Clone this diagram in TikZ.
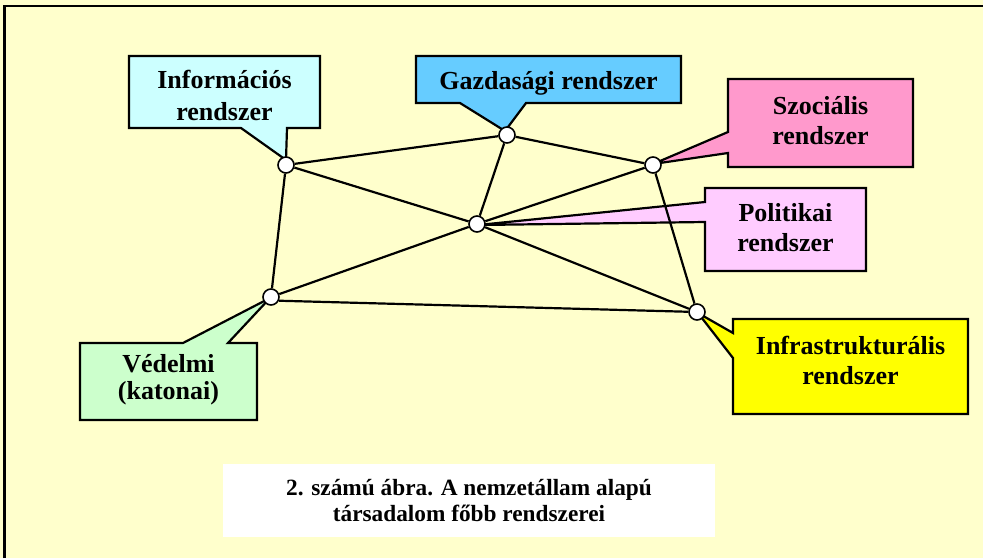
\documentclass[tikz,border=0pt]{standalone}
\usepackage{fontspec}
\setmainfont{Liberation Serif}
\definecolor{paper}{HTML}{FFFFCC}
\definecolor{infocol}{HTML}{CCFFFF}
\definecolor{gazdcol}{HTML}{66CCFF}
\definecolor{szoccol}{HTML}{FF99CC}
\definecolor{politcol}{HTML}{FFCCFF}
\definecolor{vedcol}{HTML}{CCFFCC}
\definecolor{infracol}{HTML}{FFFF00}
\begin{document}
\begin{tikzpicture}[x=1pt,y=-1pt,
  boxtext/.style={font=\fontsize{26}{30}\selectfont\bfseries, align=center, inner sep=0pt},
  callout/.style={draw=black, line width=2.2pt, line join=miter},
  hub/.style={circle, draw=black, fill=white, line width=1.6pt, minimum size=16pt, inner sep=0pt},
  link/.style={line width=2.2pt}]
\useasboundingbox (0,0) rectangle (983,558);
% page background and frame
\fill[paper] (0,0) rectangle (983,558);
\draw[line width=2.5pt] (4.5,558) -- (4.5,6) -- (983,6);

% callout outlines (box with pointer)
\filldraw[callout, fill=infocol] (129,56) -- (320,56) -- (320,128) -- (287,128) -- (286,160) -- (241,128) -- (129,128) -- cycle;
\filldraw[callout, fill=gazdcol] (416,56) -- (681,56) -- (681,103) -- (526,103) -- (505,131) -- (460,103) -- (416,103) -- cycle;
\filldraw[callout, fill=szoccol] (728,79) -- (913,79) -- (913,167) -- (728,167) -- (728,153) -- (653,164) -- (728,132) -- cycle;
\filldraw[callout, fill=politcol] (705,188) -- (866,188) -- (866,271) -- (705,271) -- (705,222) -- (478,225) -- (705,202) -- cycle;
\filldraw[callout, fill=vedcol] (80,343) -- (183,343) -- (270,298) -- (228,343) -- (257,343) -- (257,420) -- (80,420) -- cycle;
\filldraw[callout, fill=infracol] (733,319) -- (968,319) -- (968,414) -- (733,414) -- (733,358) -- (698,313) -- (733,333) -- cycle;

% system hubs
\node[hub] (pI) at (286,165) {};
\node[hub] (pG) at (507,135) {};
\node[hub] (pS) at (653,165) {};
\node[hub] (pP) at (477,224) {};
\node[hub] (pV) at (271,297) {};
\node[hub] (pF) at (697,312) {};

% links between systems
\draw[link] (pI) -- (pG);
\draw[link] (pG) -- (pS);
\draw[link] (pI) -- (pP);
\draw[link] (pI) -- (pV);
\draw[link] (pG) -- (pP);
\draw[link] (pS) -- (pP);
\draw[link] (pS) -- (pF);
\draw[link] (pP) -- (pV);
\draw[link] (pP) -- (pF);
\draw[link] (pV.-25) -- (pF);

% labels
\node[boxtext, font=\fontsize{26}{32}\selectfont\bfseries] (info) at (224.5,95) {Információs\\rendszer};
\node[boxtext] (gazd) at (548.5,83) {Gazdasági rendszer};
\node[boxtext] (szoc) at (820.5,120.5) {Szociális\\rendszer};
\node[boxtext] (polit) at (785.5,227.5) {Politikai\\rendszer};
\node[boxtext, font=\fontsize{26}{27}\selectfont\bfseries] (vedelmi) at (168.5,380) {Védelmi\\(katonai)};
\node[boxtext] (infra) at (850.5,360.5) {Infrastrukturális\\rendszer};

% caption
\node[fill=white, minimum width=492pt, minimum height=73pt, inner sep=0pt] (capbox) at (469,500.5) {};
\node[font=\fontsize{23.3}{26}\selectfont\bfseries, align=center, inner sep=0pt] (caption) at (capbox) {2. számú ábra. A nemzetállam alapú\\társadalom főbb rendszerei};
\end{tikzpicture}
\end{document}
